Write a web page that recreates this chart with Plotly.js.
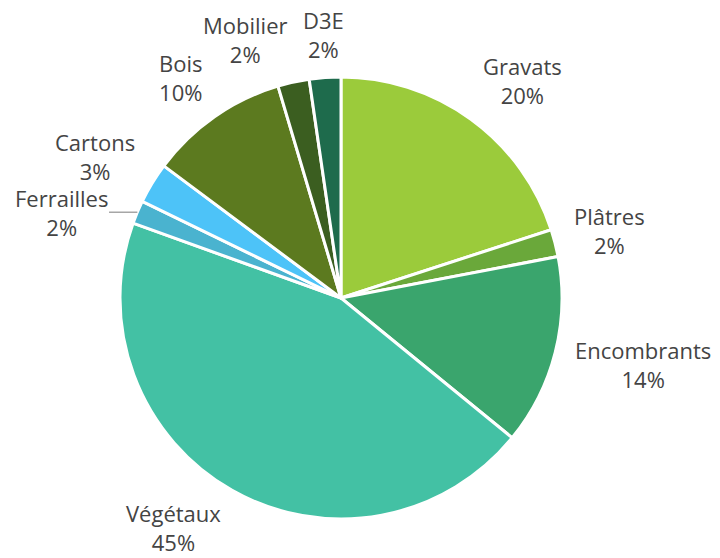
<!DOCTYPE html>
<html>
<head>
<meta charset="utf-8">
<script src="https://cdn.plot.ly/plotly-3.0.1.min.js"></script>
<style>html,body{margin:0;padding:0;background:#fff;}#chart{width:720px;height:558px;}</style>
</head>
<body>
<div id="chart"></div>
<script>
const categories = ["Gravats", "Plâtres", "Encombrants", "Végétaux", "Ferrailles", "Cartons", "Bois", "Mobilier", "D3E"];
const values = [20, 2, 13.9, 44.6, 1.7, 3, 10.2, 2.3, 2.3];
const colors = ["#9BCB3B", "#6AA83A", "#3AA56D", "#43C1A4", "#4AB3CF", "#4DC3F8", "#5C7A1F", "#3B5E20", "#1E6B4C"];
const withLeader = ["Ferrailles"];

const W = 720, H = 558;
const M = {l: 120, r: 158, t: 77, b: 39};
const pw = W - M.l - M.r, ph = H - M.t - M.b;
const cx = M.l + pw / 2, cy = M.t + ph / 2, R = Math.min(pw, ph) / 2;
const total = values.reduce((a, b) => a + b, 0);
const font = {family: "Open Sans, Noto Sans, sans-serif", size: 22, color: "#444444"};
const halfBox = 30;

const toPaperX = px => (px - M.l) / pw;
const toPaperY = py => (H - M.b - py) / ph;

let cum = 0;
const annotations = categories.map((name, i) => {
  const v = values[i];
  const theta = 2 * Math.PI * (cum + v / 2) / total;
  cum += v;
  const sx = Math.sin(theta), sy = -Math.cos(theta);
  const pct = Math.round(100 * v / total) + "%";
  const text = name + "<br>" + pct;
  if (withLeader.includes(name)) {
    const tipX = cx + R * sx, tipY = cy + R * sy;
    return {
      xref: "paper", yref: "paper",
      x: toPaperX(tipX), y: toPaperY(tipY),
      text: text, font: font, align: "center",
      showarrow: true, arrowhead: 0, arrowwidth: 1.5, arrowcolor: "#A6A6A6",
      ax: 34 * sx - 45, ay: 0, standoff: 0,
      xanchor: "center", yanchor: "middle"
    };
  }
  const px = cx + (R + 18) * sx;
  let py = cy + (R + 12) * sy + 30 * sy + 10 * sy * Math.abs(sx);
  py = Math.min(Math.max(py, halfBox + 1), H - halfBox - 1);
  return {
    xref: "paper", yref: "paper",
    x: toPaperX(px), y: toPaperY(py),
    text: text, font: font, align: "center", showarrow: false,
    xanchor: sx > 0.2 ? "left" : (sx < -0.2 ? "right" : "center"),
    yanchor: "middle"
  };
});

Plotly.newPlot("chart", [{
  type: "pie",
  labels: categories,
  values: values,
  sort: false,
  direction: "clockwise",
  rotation: 0,
  marker: {colors: colors, line: {color: "#ffffff", width: 3}},
  textinfo: "none",
  hoverinfo: "label+percent",
  showlegend: false
}], {
  width: W, height: H,
  margin: M,
  paper_bgcolor: "#ffffff",
  plot_bgcolor: "#ffffff",
  showlegend: false,
  annotations: annotations
}, {displayModeBar: false, staticPlot: true});
</script>
</body>
</html>
